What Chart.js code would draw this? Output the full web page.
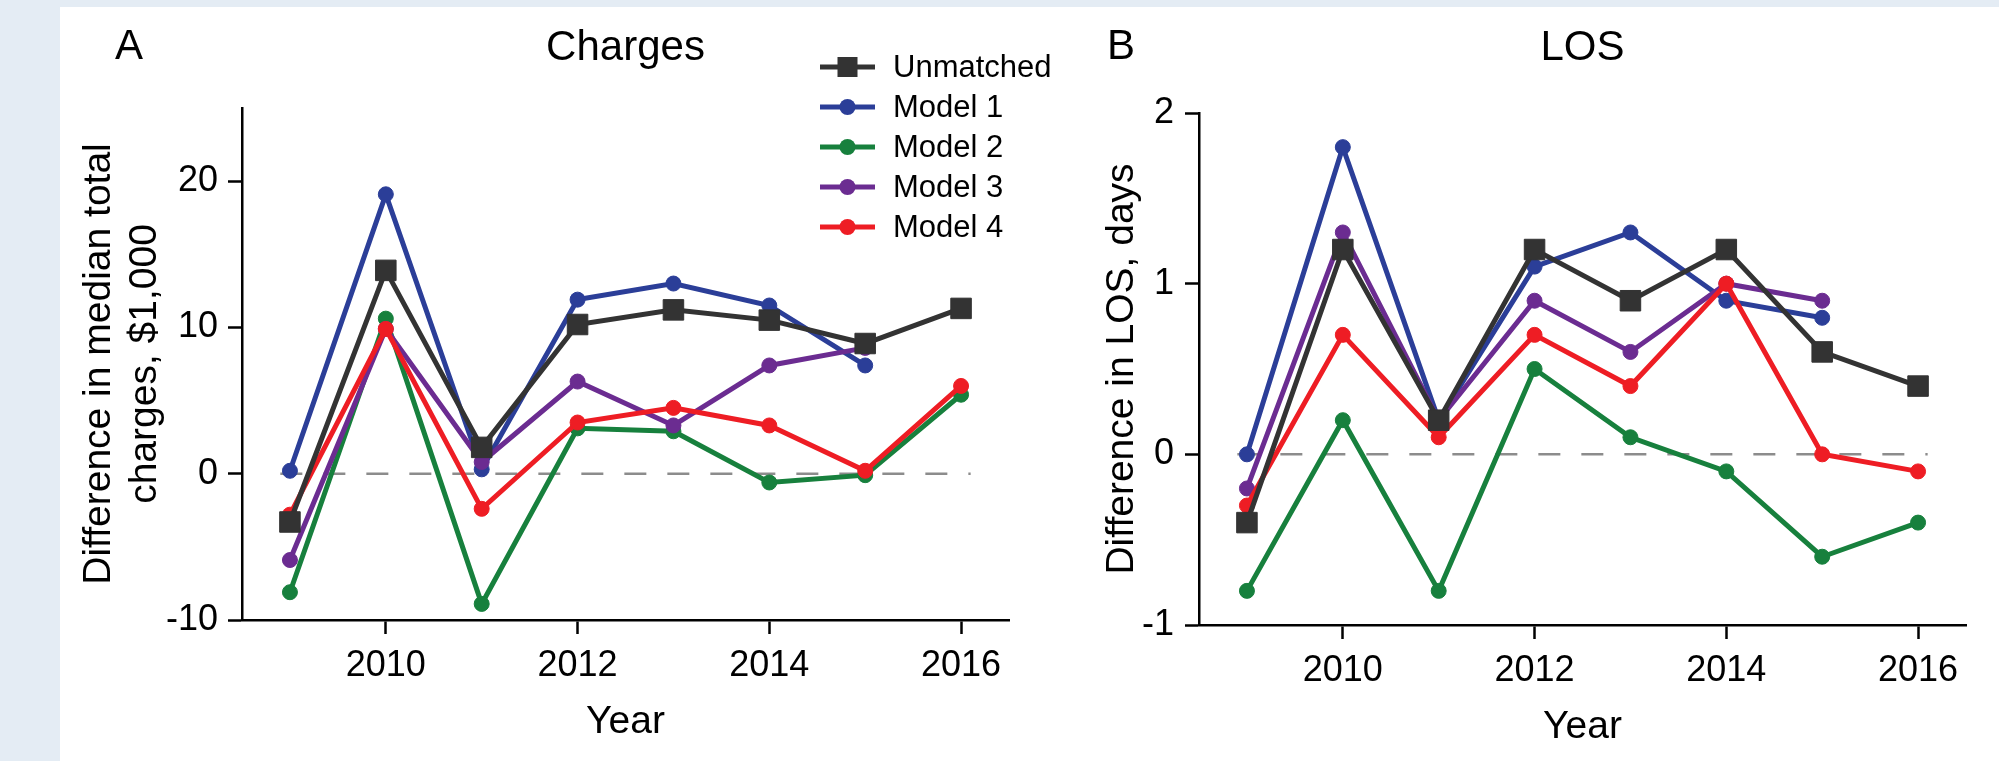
<!DOCTYPE html>
<html>
<head>
<meta charset="utf-8">
<script src="https://cdn.jsdelivr.net/npm/chart.js@4.4.1/dist/chart.umd.min.js"></script>
<style>
html, body { margin: 0; padding: 0; width: 1999px; height: 761px; overflow: hidden; background: #e4ecf4; }
#sheet { position: absolute; left: 60px; top: 7px; right: 0; bottom: 0; background: #fff; }
#chartA { position: absolute; left: 60px; top: 0; }
#chartB { position: absolute; left: 1090px; top: 0; }
</style>
</head>
<body>
<div id="sheet"></div>
<canvas id="chartA" width="1030" height="761"></canvas>
<canvas id="chartB" width="909" height="761"></canvas>
<script>
// #region data
const years = [2009, 2010, 2011, 2012, 2013, 2014, 2015, 2016];
const seriesNames = ['Unmatched', 'Model 1', 'Model 2', 'Model 3', 'Model 4'];
const xTicks = [2010, 2012, 2014, 2016];

// panel A - charges, $1,000
const chargesUnmatched = [-3.3, 13.9, 1.8, 10.2, 11.2, 10.5, 8.9, 11.3];
const chargesModel1 = [0.2, 19.1, 0.3, 11.9, 13.0, 11.5, 7.4, null];
const chargesModel2 = [-8.1, 10.6, -8.9, 3.1, 2.9, -0.6, -0.1, 5.4];
const chargesModel3 = [-5.9, 9.9, 0.8, 6.3, 3.3, 7.4, 8.6, null];
const chargesModel4 = [-2.8, 9.9, -2.4, 3.5, 4.5, 3.3, 0.2, 6.0];
const chargesTicks = [-10, 0, 10, 20];

// panel B - LOS, days
const losUnmatched = [-0.4, 1.2, 0.2, 1.2, 0.9, 1.2, 0.6, 0.4];
const losModel1 = [0, 1.8, 0.2, 1.1, 1.3, 0.9, 0.8, null];
const losModel2 = [-0.8, 0.2, -0.8, 0.5, 0.1, -0.1, -0.6, -0.4];
const losModel3 = [-0.2, 1.3, 0.2, 0.9, 0.6, 1.0, 0.9, null];
const losModel4 = [-0.3, 0.7, 0.1, 0.7, 0.4, 1.0, 0, -0.1];
const losTicks = [-1, 0, 1, 2];
// #endregion

// #region styles
const seriesColors = ['#333333', '#2b3e98', '#17803d', '#6b2c91', '#ee1d24'];
const drawOrder = [0, 4, 3, 2, 1]; // unmatched on top, then model 4..1
const FONT = "'Liberation Sans', Arial, Helvetica, sans-serif";
Chart.defaults.font.family = FONT;
Chart.defaults.color = '#000';
// #endregion

function buildDatasets(seriesValues) {
    return seriesValues.map((vals, i) => ({
        label: seriesNames[i],
        data: years.map((yr, j) => ({ x: yr, y: vals[j] })).filter(p => p.y !== null),
        borderColor: seriesColors[i],
        backgroundColor: seriesColors[i],
        borderWidth: 5,
        pointStyle: i === 0 ? 'rect' : 'circle',
        pointRadius: i === 0 ? 14.5 : 7.5,
        pointBorderWidth: 1,
        pointBorderColor: seriesColors[i],
        pointBackgroundColor: seriesColors[i],
        order: drawOrder[i],
        tension: 0
    }));
}

function makePanel(canvasId, cfg) {
    const panelPlugin = {
        id: 'panelDecor',
        beforeDatasetsDraw(chart) {
            // dashed zero reference line
            const { ctx, scales: { x, y } } = chart;
            ctx.save();
            ctx.setLineDash([22, 21]);
            ctx.strokeStyle = '#8c8c8c';
            ctx.lineWidth = 2.5;
            ctx.beginPath();
            ctx.moveTo(x.getPixelForValue(2008.9), y.getPixelForValue(0));
            ctx.lineTo(x.getPixelForValue(2016.1), y.getPixelForValue(0));
            ctx.stroke();
            ctx.restore();
        },
        afterDraw(chart) {
            const { ctx, chartArea } = chart;
            ctx.save();
            ctx.fillStyle = '#000';
            ctx.textBaseline = 'middle';
            ctx.font = '42px ' + FONT;
            ctx.textAlign = 'left';
            ctx.fillText(cfg.letter, cfg.letterX, 47);
            ctx.textAlign = 'center';
            ctx.fillText(cfg.title, (chartArea.left + chartArea.right) / 2, 48);
            ctx.restore();

            if (!cfg.legend) return;
            // legend: line with marker in the middle
            ctx.save();
            chart.data.datasets.forEach((ds, i) => {
                const ly = 67 + i * 40;
                const x0 = 760, x1 = 815, xm = (x0 + x1) / 2;
                ctx.strokeStyle = ds.borderColor;
                ctx.fillStyle = ds.borderColor;
                ctx.lineWidth = ds.borderWidth;
                ctx.beginPath();
                ctx.moveTo(x0, ly);
                ctx.lineTo(x1, ly);
                ctx.stroke();
                if (ds.pointStyle === 'rect') {
                    ctx.fillRect(xm - 10, ly - 10, 20, 20);
                } else {
                    ctx.beginPath();
                    ctx.arc(xm, ly, 8, 0, Math.PI * 2);
                    ctx.fill();
                }
                ctx.fillStyle = '#000';
                ctx.font = '31px ' + FONT;
                ctx.textAlign = 'left';
                ctx.textBaseline = 'middle';
                ctx.fillText(ds.label, 833, ly + 1);
            });
            ctx.restore();
        }
    };

    const axisGrid = {
        display: true,
        drawOnChartArea: false,
        drawTicks: true,
        tickLength: 14,
        tickWidth: 2.5,
        tickColor: '#000'
    };
    const axisBorder = { display: true, color: '#000', width: 2.5 };

    return new Chart(document.getElementById(canvasId), {
        type: 'line',
        data: { datasets: buildDatasets(cfg.values) },
        options: {
            responsive: false,
            animation: false,
            layout: { padding: { left: 0, top: cfg.top, right: cfg.right, bottom: 0 } },
            plugins: { legend: { display: false }, tooltip: { enabled: false } },
            scales: {
                x: {
                    type: 'linear',
                    min: 2008.5,
                    max: 2016.5,
                    afterBuildTicks: s => { s.ticks = xTicks.map(v => ({ value: v })); },
                    afterFit: s => { s.height = cfg.xHeight; },
                    ticks: { font: { size: 36 }, padding: 10, callback: v => String(v), maxRotation: 0 },
                    grid: axisGrid,
                    border: axisBorder,
                    title: { display: true, text: 'Year', font: { size: 39 }, padding: { top: 0, bottom: cfg.yearPad } }
                },
                y: {
                    type: 'linear',
                    min: cfg.yMin,
                    max: cfg.yMax,
                    afterBuildTicks: s => { s.ticks = cfg.yTicks.map(v => ({ value: v })); },
                    afterFit: s => { s.width = cfg.yWidth; },
                    ticks: { font: { size: 36 }, padding: cfg.yTickPad, callback: v => String(v) },
                    grid: axisGrid,
                    border: axisBorder,
                    title: { display: true, text: cfg.yTitle, font: { size: 39, lineHeight: 1.18 }, padding: { top: cfg.yTitlePad, bottom: 0 } }
                }
            }
        },
        plugins: [panelPlugin]
    });
}

makePanel('chartA', {
    values: [chargesUnmatched, chargesModel1, chargesModel2, chargesModel3, chargesModel4],
    yMin: -10, yMax: 25, yTicks: chargesTicks,
    yTitle: ['Difference in median total', 'charges, $1,000'],
    letter: 'A', letterX: 55, title: 'Charges', legend: true,
    top: 108, right: 81, xHeight: 141, yWidth: 182,
    yTickPad: 10, yTitlePad: 16, yearPad: 15
});

makePanel('chartB', {
    values: [losUnmatched, losModel1, losModel2, losModel3, losModel4],
    yMin: -1, yMax: 2, yTicks: losTicks,
    yTitle: 'Difference in LOS, days',
    letter: 'B', letterX: 17, title: 'LOS', legend: false,
    top: 113, right: 33, xHeight: 136, yWidth: 109,
    yTickPad: 11, yTitlePad: 9, yearPad: 10
});
</script>
</body>
</html>
